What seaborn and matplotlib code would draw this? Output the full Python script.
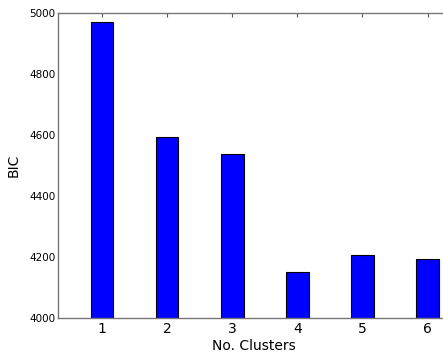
import pandas as pd
import matplotlib
matplotlib.use("Agg")
import matplotlib.pyplot as plt
import seaborn as sns

# BIC per number of clusters
clusters = [1, 2, 3, 4, 5, 6]
bic = [4970, 4592, 4536, 4151, 4204, 4191]

df = pd.DataFrame({"clusters": clusters, "bic": bic})

sns.set_style("white")
plt.rcParams["font.family"] = ["DejaVu Sans"]
plt.rcParams["text.color"] = "black"
plt.rcParams["axes.labelcolor"] = "black"
plt.rcParams["xtick.labelcolor"] = "black"
plt.rcParams["ytick.labelcolor"] = "black"

fig = plt.figure(figsize=(4.43, 3.53), dpi=100)
W, H = 443, 353
# axes runs a little off the right edge of the picture, as in the reference
ax = fig.add_axes([58.3 / W, 1 - 317.7 / H, (449 - 58.3) / W, (317.7 - 12.7) / H])

sns.barplot(data=df, x="clusters", y="bic", native_scale=True, width=0.35,
            color="#0000ff", saturation=1, edgecolor="black", linewidth=0.8, ax=ax)

ax.set_xlim(0.33, 6.33)
ax.set_ylim(4000, 5000)
ax.set_xticks(clusters)
ax.set_yticks([4000, 4200, 4400, 4600, 4800, 5000])
ax.set_xlabel("No. Clusters", fontsize=10, labelpad=2)
ax.set_ylabel("BIC", fontsize=10, labelpad=6)
ax.tick_params(axis="x", labelsize=10, direction="in", top=True, length=3,
               color="#555555", pad=3)
ax.tick_params(axis="y", labelsize=7.5, direction="in", right=True, length=3,
               color="#555555", pad=2)
for s in ax.spines.values():
    s.set_color("#777777")
    s.set_linewidth(1)

fig.savefig("out.png", dpi=100)
